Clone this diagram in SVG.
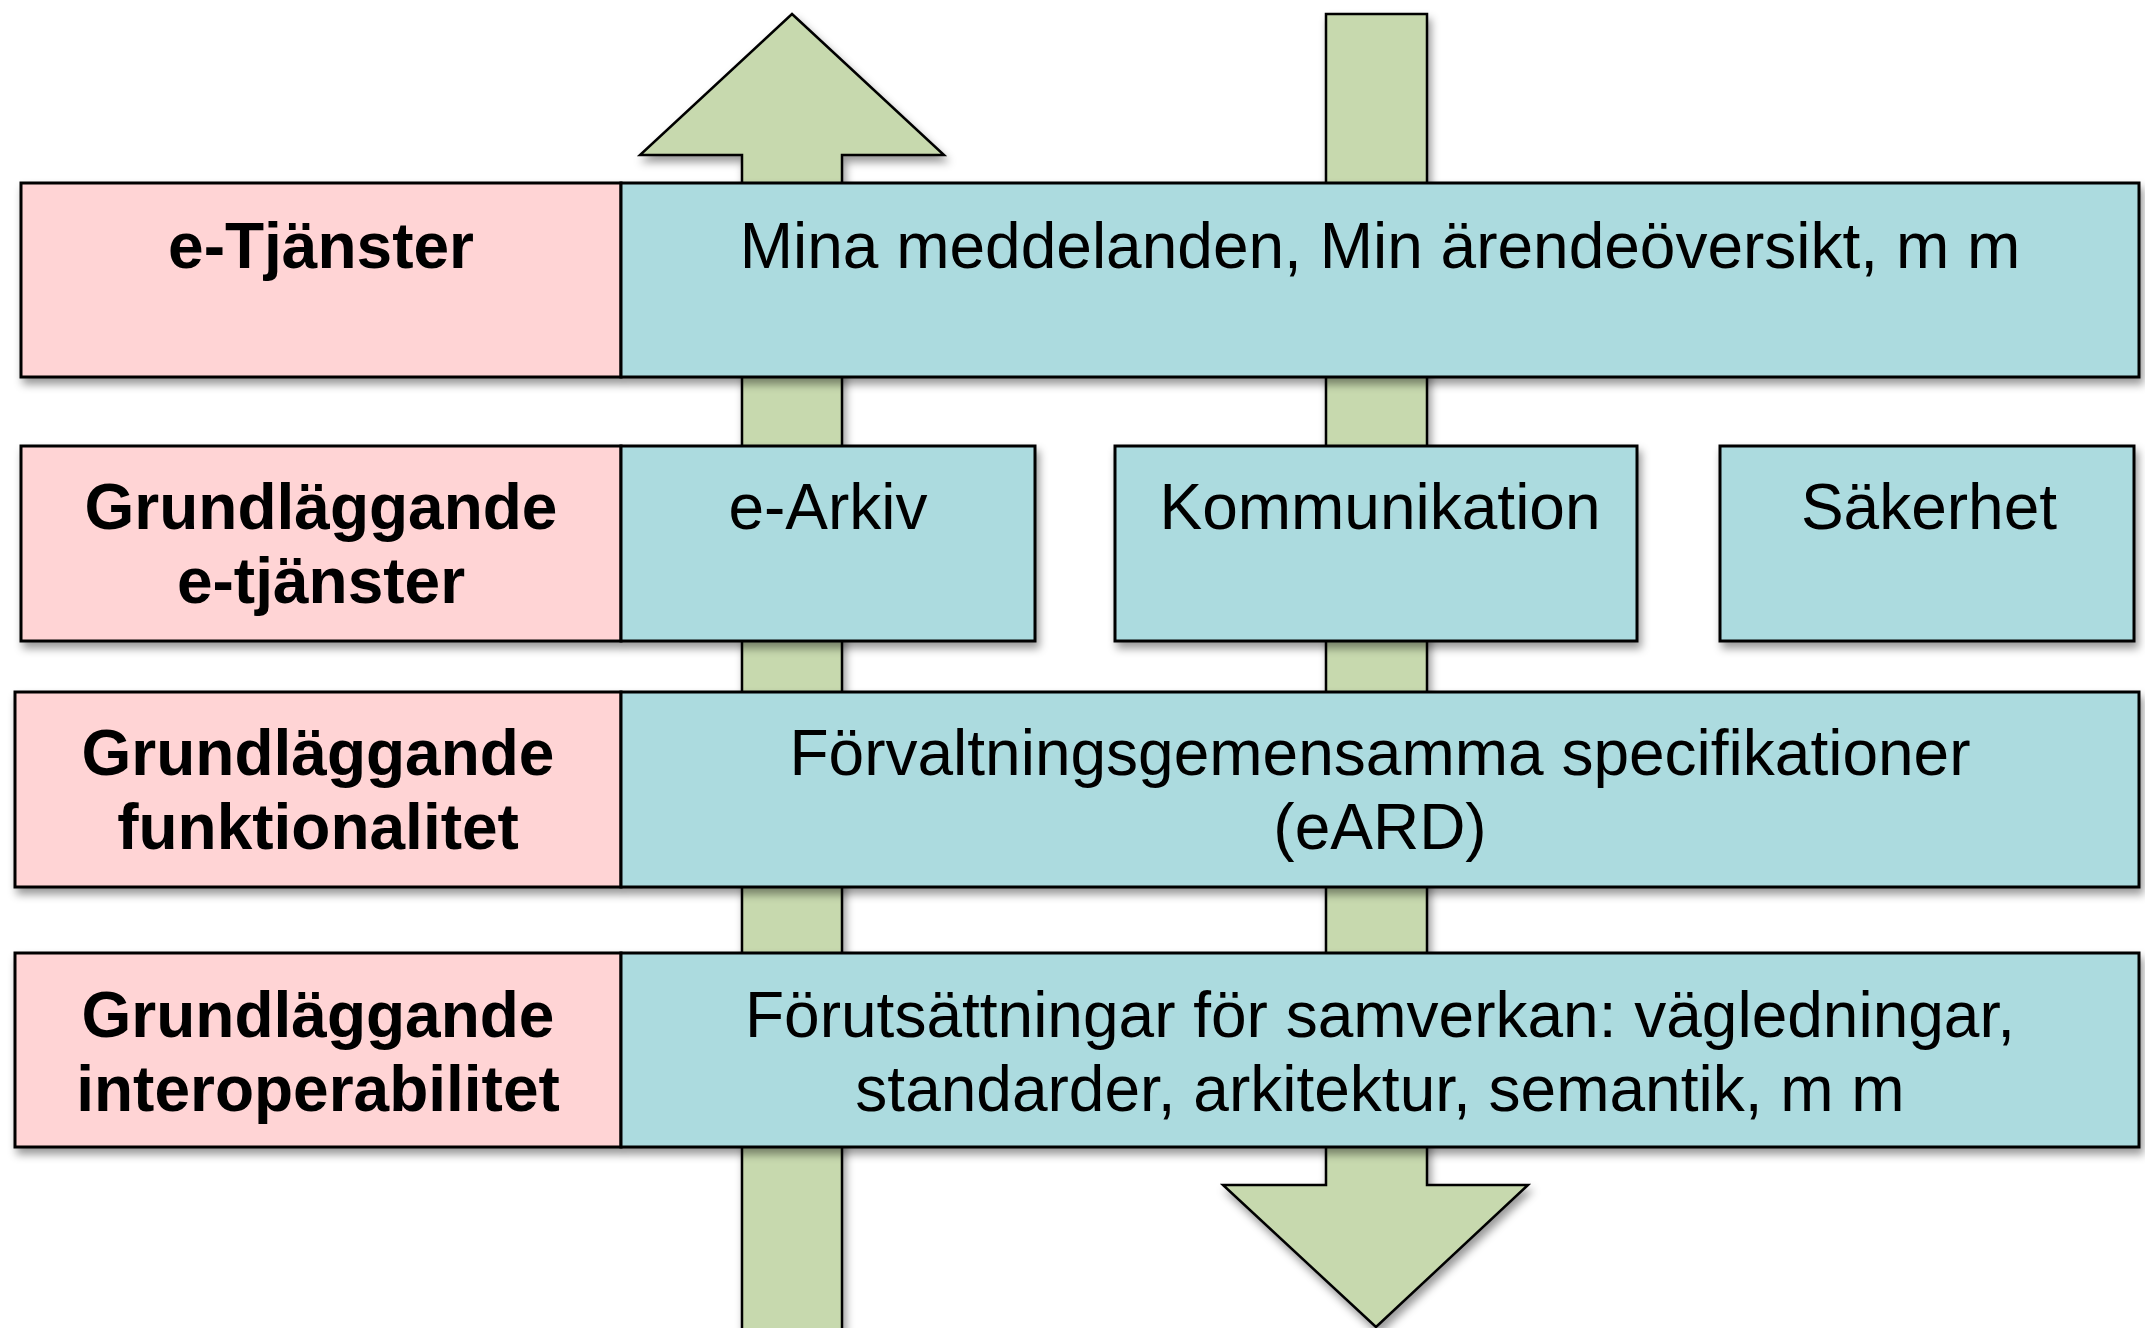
<svg xmlns="http://www.w3.org/2000/svg" width="2145" height="1328" viewBox="0 0 2145 1328">
<defs>
<filter id="sh" x="-10%" y="-10%" width="120%" height="130%">
<feDropShadow dx="3" dy="6" stdDeviation="4" flood-color="#000" flood-opacity="0.4"/>
</filter>
<style>
.arrow{fill:#C7D9AE;stroke:#000;stroke-width:2.5;stroke-linejoin:miter}
.pink{fill:#FFD4D5;stroke:#000;stroke-width:3}
.blue{fill:#ACDBDF;stroke:#000;stroke-width:3}
.lbl{font-family:"Liberation Sans",Arial,sans-serif;font-weight:bold;font-size:64px;fill:#000;text-anchor:middle}
.txt{font-family:"Liberation Sans",Arial,sans-serif;font-size:64px;fill:#000;text-anchor:middle}
</style>
</defs>
<rect width="2145" height="1328" fill="#fff"/>
<g id="connectors">
<polygon class="arrow" filter="url(#sh)" points="792,14 944,155 842,155 842,1345 742,1345 742,155 640,155"/>
<polygon class="arrow" filter="url(#sh)" points="1326,14 1427,14 1427,1185 1528,1185 1376,1327 1223,1185 1326,1185"/>
</g>
<g id="row1">
<g filter="url(#sh)">
<rect class="pink" x="21" y="183" width="600" height="194"/>
<rect class="blue" x="621" y="183" width="1518" height="194"/>
</g>
<text class="lbl" x="321" y="268">e-Tjänster</text>
<text class="txt" x="1380" y="268">Mina meddelanden, Min ärendeöversikt, m m</text>
</g>
<g id="row2">
<g filter="url(#sh)">
<rect class="pink" x="21" y="446" width="600" height="195"/>
<rect class="blue" x="621" y="446" width="414" height="195"/>
</g>
<text class="lbl" x="321" y="529">Grundläggande</text>
<text class="lbl" x="321" y="603">e-tjänster</text>
</g>
<g id="earkiv">
<text class="txt" x="828" y="529">e-Arkiv</text>
</g>
<g id="kommunikation">
<rect class="blue" filter="url(#sh)" x="1115" y="446" width="522" height="195"/>
<text class="txt" x="1380" y="529">Kommunikation</text>
</g>
<g id="sakerhet">
<rect class="blue" filter="url(#sh)" x="1720" y="446" width="414" height="195"/>
<text class="txt" x="1929" y="529">Säkerhet</text>
</g>
<g id="row3">
<g filter="url(#sh)">
<rect class="pink" x="15" y="692" width="606" height="195"/>
<rect class="blue" x="621" y="692" width="1518" height="195"/>
</g>
<text class="lbl" x="318" y="775">Grundläggande</text>
<text class="lbl" x="318" y="849">funktionalitet</text>
<text class="txt" x="1380" y="775">Förvaltningsgemensamma specifikationer</text>
<text class="txt" x="1380" y="849">(eARD)</text>
</g>
<g id="row4">
<g filter="url(#sh)">
<rect class="pink" x="15" y="953" width="606" height="194"/>
<rect class="blue" x="621" y="953" width="1518" height="194"/>
</g>
<text class="lbl" x="318" y="1037">Grundläggande</text>
<text class="lbl" x="318" y="1111">interoperabilitet</text>
<text class="txt" x="1380" y="1037">Förutsättningar för samverkan: vägledningar,</text>
<text class="txt" x="1380" y="1111">standarder, arkitektur, semantik, m m</text>
</g>
</svg>
